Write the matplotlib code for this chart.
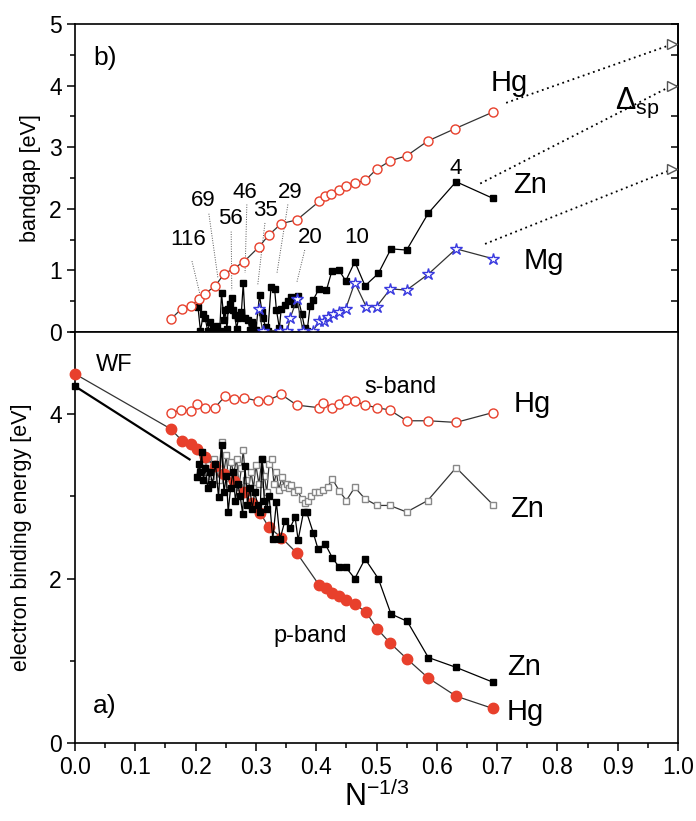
"""
Bandgap and electron binding energies of Hg, Zn and Mg clusters vs N^-1/3
"""

import matplotlib
matplotlib.use('Agg')
import matplotlib.pyplot as plt
from matplotlib.ticker import MultipleLocator, FormatStrFormatter

plt.rcParams['font.family'] = ['Liberation Sans', 'DejaVu Sans']
plt.rcParams['mathtext.fontset'] = 'custom'
plt.rcParams['mathtext.rm'] = 'Liberation Sans'
plt.rcParams['mathtext.it'] = 'Liberation Sans'

# ---- b) bandgap ----
hg_gap_x = [0.159, 0.177, 0.193, 0.205, 0.215, 0.232, 0.247, 0.263, 0.280, 0.305,
            0.321, 0.342, 0.368, 0.405, 0.415, 0.425, 0.437, 0.450, 0.464, 0.481,
            0.500, 0.523, 0.550, 0.585, 0.630, 0.693]
hg_gap_y = [0.21, 0.38, 0.42, 0.54, 0.62, 0.74, 0.94, 1.03, 1.14, 1.38,
            1.57, 1.76, 1.82, 2.12, 2.20, 2.24, 2.30, 2.37, 2.42, 2.46,
            2.64, 2.78, 2.86, 3.10, 3.30, 3.57]

zn_gap_x = [0.204, 0.208, 0.213, 0.216, 0.220, 0.224, 0.229, 0.235, 0.240, 0.243,
            0.247, 0.249, 0.252, 0.254, 0.257, 0.260, 0.262, 0.265, 0.268, 0.271,
            0.276, 0.279, 0.282, 0.287, 0.290, 0.293, 0.296, 0.300, 0.306, 0.310,
            0.312, 0.316, 0.320, 0.325, 0.331, 0.334, 0.339, 0.342, 0.348, 0.354,
            0.359, 0.364, 0.369, 0.376, 0.381, 0.385, 0.390, 0.395, 0.404, 0.417,
            0.426, 0.438, 0.449, 0.464, 0.481, 0.503, 0.524, 0.550, 0.586, 0.632,
            0.693]
zn_gap_y = [0.40, 0.02, 0.30, 0.22, 0.02, 0.17, 0.06, 0.10, 0.02, 0.63,
            0.20, 0.36, 0.05, 0.38, 0.46, 0.55, 0.36, 0.27, 0.05, 0.22,
            0.33, 0.79, 0.22, 0.19, 0.03, 0.17, 0.11, 0.03, 0.60, 0.33,
            0.22, 0.08, 0.02, 0.73, 0.70, 0.36, 0.06, 0.38, 0.44, 0.51,
            0.57, 0.45, 0.59, 0.30, 0.06, 0.02, 0.43, 0.52, 0.69, 0.68,
            0.99, 1.00, 0.83, 1.14, 0.75, 0.95, 1.35, 1.33, 1.93, 2.44,
            2.17]

mg_gap_x = [0.305, 0.311, 0.340, 0.352, 0.357, 0.368, 0.378, 0.395, 0.405, 0.413,
            0.420, 0.428, 0.438, 0.449, 0.464, 0.483, 0.500, 0.523, 0.550, 0.586,
            0.632, 0.693]
mg_gap_y = [0.38, 0.02, 0.02, 0.02, 0.23, 0.53, 0.02, 0.02, 0.18, 0.18,
            0.25, 0.30, 0.33, 0.38, 0.80, 0.41, 0.41, 0.70, 0.68, 0.94,
            1.35, 1.19]

# bulk s-p splitting, dotted guides toward x = 1
dsp_names = ['Hg', 'Zn', 'Mg']
dsp_start_x = [0.715, 0.672, 0.680]
dsp_start_y = [3.72, 2.41, 1.43]
dsp_bulk_x = [0.99, 0.99, 0.99]
dsp_bulk_y = [4.67, 4.00, 2.64]

# cluster sizes N marked on the Zn curve
size_labels = ['116', '69', '56', '46', '35', '29', '20', '10', '4']
size_text_x = [0.188, 0.213, 0.257, 0.282, 0.316, 0.357, 0.390, 0.467, 0.632]
size_text_y = [1.50, 2.14, 1.84, 2.27, 1.97, 2.27, 1.53, 1.53, 2.65]
leader_x0 = [0.194, 0.222, 0.259, 0.285, 0.315, 0.353, 0.381]
leader_y0 = [1.15, 1.92, 1.63, 2.07, 1.77, 2.07, 1.33]
leader_x1 = [0.207, 0.237, 0.260, 0.282, 0.303, 0.335, 0.368]
leader_y1 = [0.62, 0.88, 0.68, 0.96, 0.76, 0.96, 0.81]

# ---- a) electron binding energy ----
hg_s_x = [0.159, 0.176, 0.192, 0.203, 0.216, 0.232, 0.249, 0.264, 0.280, 0.304,
          0.320, 0.342, 0.368, 0.404, 0.412, 0.426, 0.438, 0.450, 0.464, 0.481,
          0.501, 0.522, 0.550, 0.586, 0.632, 0.693]
hg_s_y = [4.02, 4.05, 4.04, 4.12, 4.07, 4.08, 4.22, 4.19, 4.20, 4.16,
          4.17, 4.24, 4.11, 4.08, 4.14, 4.08, 4.13, 4.17, 4.16, 4.11,
          4.08, 4.05, 3.92, 3.92, 3.90, 4.02]

zn_s_x = [0.206, 0.210, 0.214, 0.218, 0.222, 0.226, 0.230, 0.234, 0.238, 0.243,
          0.247, 0.251, 0.255, 0.259, 0.263, 0.268, 0.272, 0.276, 0.279, 0.283,
          0.287, 0.292, 0.296, 0.300, 0.305, 0.310, 0.314, 0.318, 0.322, 0.326,
          0.330, 0.334, 0.338, 0.343, 0.347, 0.351, 0.355, 0.359, 0.364, 0.369,
          0.376, 0.381, 0.387, 0.391, 0.398, 0.405, 0.412, 0.419, 0.427, 0.438,
          0.450, 0.464, 0.481, 0.501, 0.522, 0.550, 0.585, 0.632, 0.693]
zn_s_y = [3.55, 3.40, 3.48, 3.30, 3.38, 3.25, 3.45, 3.35, 3.20, 3.66,
          3.30, 3.50, 3.15, 3.42, 3.28, 3.45, 3.12, 3.35, 3.56, 3.20,
          3.05, 3.30, 3.10, 3.38, 3.15, 3.46, 3.25, 3.05, 3.40, 3.46,
          3.15, 3.30, 3.08, 3.23, 3.12, 3.15, 3.10, 3.14, 3.05, 3.08,
          2.97, 2.92, 2.95, 3.00, 3.05, 3.05, 3.08, 3.12, 3.21, 3.07,
          2.95, 3.11, 2.97, 2.89, 2.89, 2.81, 2.95, 3.35, 2.90]

zn_p_x = [0.202, 0.205, 0.207, 0.210, 0.213, 0.216, 0.220, 0.224, 0.228, 0.233,
          0.238, 0.243, 0.247, 0.251, 0.254, 0.258, 0.262, 0.266, 0.270, 0.274,
          0.278, 0.282, 0.286, 0.290, 0.294, 0.298, 0.303, 0.307, 0.310, 0.314,
          0.318, 0.322, 0.328, 0.334, 0.340, 0.348, 0.357, 0.365, 0.370, 0.379,
          0.384, 0.395, 0.403, 0.415, 0.427, 0.438, 0.449, 0.464, 0.481, 0.503,
          0.524, 0.551, 0.586, 0.632, 0.693]
zn_p_y = [3.23, 3.40, 3.30, 3.54, 3.20, 3.35, 3.10, 3.30, 3.15, 3.40,
          2.99, 3.62, 3.05, 3.25, 2.81, 3.10, 3.30, 2.95, 3.15, 3.00,
          2.79, 3.37, 2.90, 3.10, 2.85, 3.05, 2.90, 2.81, 3.45, 2.95,
          2.85, 3.00, 2.48, 2.93, 2.48, 2.70, 2.62, 2.75, 2.47, 2.81,
          2.81, 2.56, 2.36, 2.42, 2.25, 2.14, 2.14, 2.00, 2.24, 2.00,
          1.57, 1.48, 1.04, 0.92, 0.74]

hg_p_x = [0.000, 0.159, 0.177, 0.192, 0.203, 0.216, 0.232, 0.247, 0.263, 0.280,
          0.293, 0.307, 0.321, 0.342, 0.368, 0.405, 0.416, 0.427, 0.438, 0.449,
          0.464, 0.483, 0.501, 0.522, 0.551, 0.586, 0.632, 0.693]
hg_p_y = [4.49, 3.82, 3.68, 3.64, 3.58, 3.48, 3.37, 3.27, 3.19, 3.05,
          2.92, 2.80, 2.63, 2.50, 2.31, 1.92, 1.88, 1.82, 1.79, 1.74,
          1.69, 1.59, 1.39, 1.22, 1.02, 0.79, 0.57, 0.42]

# work-function limit for Zn and its extrapolation line
zn_wf_x = [0.0, 0.19]
zn_wf_y = [4.34, 3.45]

RED = '#e8402c'
BLUE = '#3a3adf'


def style_axes(ax):
    for sp in ax.spines.values():
        sp.set_linewidth(1.2)
    ax.set_xlim(0, 1.0)
    ax.set_ylim(0, 5)
    ax.xaxis.set_major_locator(MultipleLocator(0.1))
    ax.xaxis.set_minor_locator(MultipleLocator(0.05))
    ax.tick_params(which='major', direction='out', length=6, width=1.1,
                   labelsize=16.5, top=False, right=False)
    ax.tick_params(which='minor', direction='out', length=3.5, width=1.1,
                   top=False, right=False)


fig = plt.figure(figsize=(6.96, 8.21), dpi=100)
ax_b = fig.add_axes([75 / 696, 1 - 332 / 821, 603 / 696, 308 / 821])
ax_a = fig.add_axes([75 / 696, 1 - 743 / 821, 603 / 696, 411 / 821])

# ---------------- panel b ----------------
style_axes(ax_b)
ax_b.yaxis.set_major_locator(MultipleLocator(1))
ax_b.yaxis.set_minor_locator(MultipleLocator(0.5))
ax_b.tick_params(axis='x', labelbottom=False)
ax_b.set_ylabel('bandgap [eV]', fontsize=15.5, labelpad=6)

sec = ax_b.secondary_yaxis('right')
sec.yaxis.set_major_locator(MultipleLocator(0.5))
sec.tick_params(direction='in', length=5, width=1.1, labelright=False)
sec.spines['right'].set_linewidth(1.2)

for x0, y0, x1, y1 in zip(leader_x0, leader_y0, leader_x1, leader_y1):
    ax_b.plot([x0, x1], [y0, y1], ls=(0, (1, 1.5)), color='#555555', lw=0.7)

ax_b.plot(zn_gap_x, zn_gap_y, '-', color='black', lw=0.9, marker='s', ms=4,
          mfc='black', mec='black', zorder=3)
ax_b.plot(mg_gap_x, mg_gap_y, '-', color='#333333', lw=0.9, marker='*', ms=9,
          mfc='white', mec=BLUE, mew=1.0, zorder=4)
ax_b.plot(hg_gap_x, hg_gap_y, '-', color='#333333', lw=0.9, marker='o', ms=6.5,
          mfc='white', mec=RED, mew=1.0, zorder=5)

for x0, y0, x1, y1 in zip(dsp_start_x, dsp_start_y, dsp_bulk_x, dsp_bulk_y):
    ax_b.plot([x0, x1], [y0, y1], ls=(0, (1.0, 2.0)), color='black', lw=1.3)
ax_b.plot(dsp_bulk_x, dsp_bulk_y, ls='none', marker='>', ms=7, mfc='white',
          mec='#555555', mew=1.0, clip_on=False, zorder=6)

for lab, tx, ty in zip(size_labels, size_text_x, size_text_y):
    ax_b.text(tx, ty, lab, fontsize=16, ha='center', va='center')

ax_b.text(0.72, 4.05, 'Hg', fontsize=21, ha='center', va='center')
ax_b.text(0.755, 2.38, 'Zn', fontsize=21, ha='center', va='center')
ax_b.text(0.778, 1.15, 'Mg', fontsize=21, ha='center', va='center')
ax_b.text(0.895, 3.72, r'$\Delta_{\mathrm{sp}}$', fontsize=22, ha='left', va='center')
ax_b.text(0.03, 4.45, 'b)', fontsize=19, ha='left', va='center')

# ---------------- panel a ----------------
style_axes(ax_a)
ax_a.yaxis.set_major_locator(MultipleLocator(2))
ax_a.yaxis.set_minor_locator(MultipleLocator(1))
ax_a.xaxis.set_major_formatter(FormatStrFormatter('%.1f'))
ax_a.set_ylabel('electron binding energy [eV]', fontsize=15.5, labelpad=12)
ax_a.set_xlabel(r'N$^{\mathrm{-1/3}}$', fontsize=22, labelpad=1)

ax_a.plot(zn_wf_x, zn_wf_y, '-', color='black', lw=1.6, zorder=2)
ax_a.plot(zn_wf_x[:1], zn_wf_y[:1], ls='none', marker='s', ms=4, color='black',
          clip_on=False, zorder=3)
ax_a.plot(hg_s_x, hg_s_y, '-', color='#333333', lw=0.9, marker='o', ms=6.5,
          mfc='white', mec=RED, mew=1.0, zorder=5)
ax_a.plot(zn_s_x, zn_s_y, '-', color='#333333', lw=0.9, marker='s', ms=5,
          mfc='white', mec='#888888', mew=1.0, zorder=3)
ax_a.plot(hg_p_x, hg_p_y, '-', color='#333333', lw=0.9, marker='o', ms=7.5,
          mfc=RED, mec=RED, clip_on=False, zorder=4)
ax_a.plot(zn_p_x, zn_p_y, '-', color='black', lw=0.9, marker='s', ms=4,
          mfc='black', mec='black', zorder=5)

ax_a.text(0.035, 4.6, 'WF', fontsize=17, ha='left', va='center')
ax_a.text(0.54, 4.33, 's-band', fontsize=17, ha='center', va='center')
ax_a.text(0.39, 1.30, 'p-band', fontsize=17, ha='center', va='center')
ax_a.text(0.728, 4.12, 'Hg', fontsize=21, ha='left', va='center')
ax_a.text(0.722, 2.85, 'Zn', fontsize=21, ha='left', va='center')
ax_a.text(0.716, 0.92, 'Zn', fontsize=21, ha='left', va='center')
ax_a.text(0.716, 0.38, 'Hg', fontsize=21, ha='left', va='center')
ax_a.text(0.03, 0.45, 'a)', fontsize=19, ha='left', va='center')

fig.savefig('out.png', dpi=100)
